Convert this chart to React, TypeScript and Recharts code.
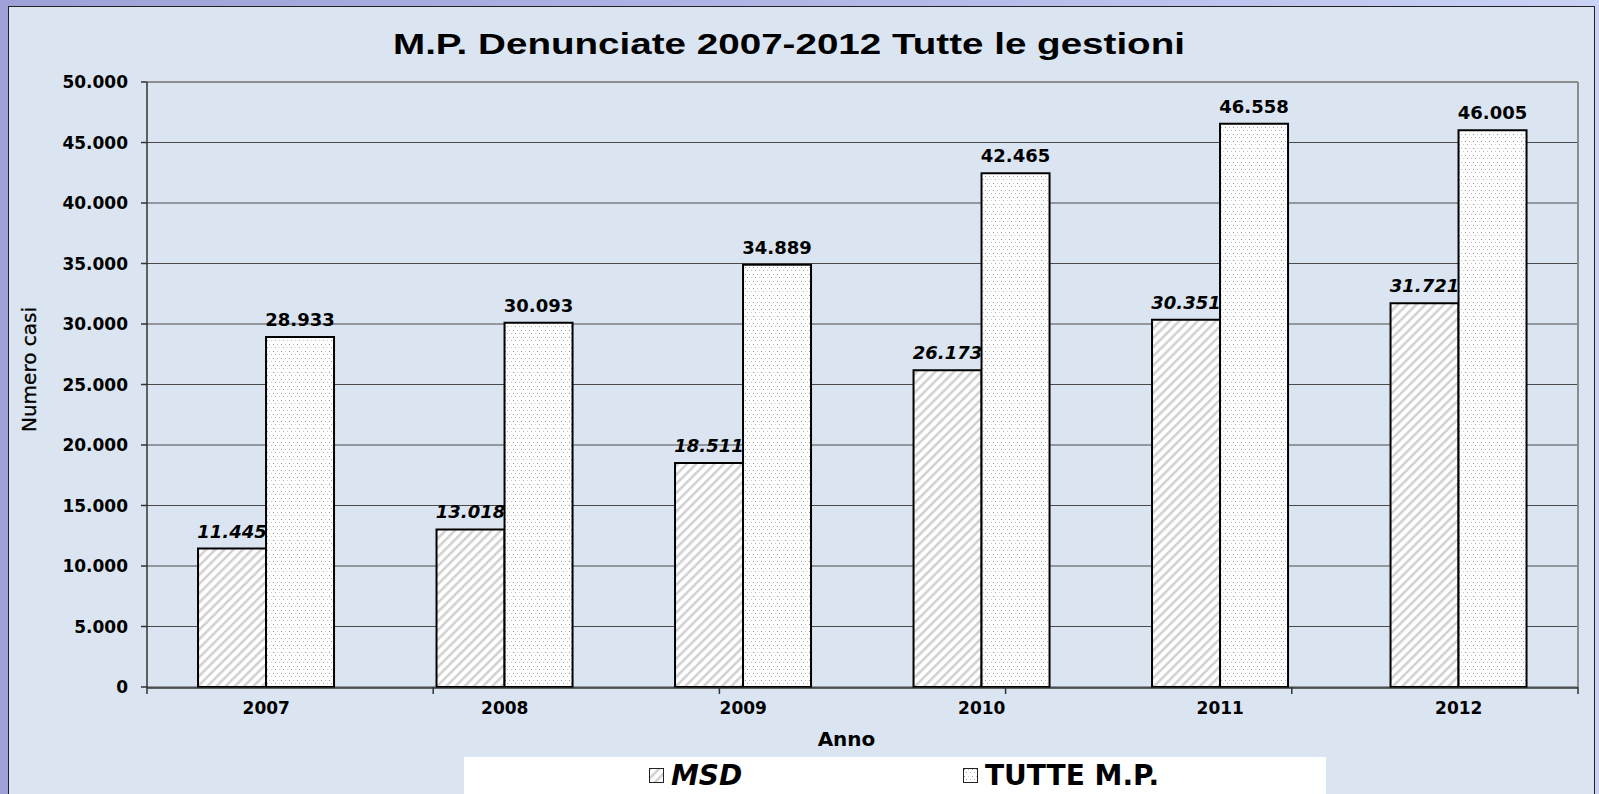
import React from "react";
import {
  Bar,
  BarChart,
  CartesianGrid,
  LabelList,
  ReferenceLine,
  XAxis,
  YAxis,
} from "recharts";

const YEARS = ["2007", "2008", "2009", "2010", "2011", "2012"];
const MSD = [11445, 13018, 18511, 26173, 30351, 31721];
const TUTTE = [28933, 30093, 34889, 42465, 46558, 46005];
const Y_TICKS = [0, 5000, 10000, 15000, 20000, 25000, 30000, 35000, 40000, 45000, 50000];
const SERIES_NAMES = ["MSD", "TUTTE M.P."];
const TITLE = "M.P. Denunciate 2007-2012 Tutte le gestioni";

const data = YEARS.map((anno, i) => ({ anno, msd: MSD[i], tutte: TUTTE[i] }));
// tacche dell'asse X ai confini delle categorie
const BOUNDARY_TICKS = YEARS.map((_, i) => i).concat(YEARS.length);

const FONT = "'DejaVu Sans', sans-serif";

// separatore delle migliaia all'italiana
const fmt = (v: number | string) =>
  String(v).replace(/\B(?=(\d{3})+(?!\d))/g, ".");

function Patterns() {
  return (
    <svg width={0} height={0} style={{ position: "absolute" }}>
      <defs>
        <pattern
          id="msdHatch"
          patternUnits="userSpaceOnUse"
          width={6.5}
          height={6.5}
          patternTransform="rotate(45)"
        >
          <rect width={6.5} height={6.5} fill="#fff" />
          <rect width={2.6} height={6.5} fill="#d2d2d2" />
        </pattern>
        <pattern id="tutteDots" patternUnits="userSpaceOnUse" width={8} height={7}>
          <rect width={8} height={7} fill="#fff" />
          <rect x={1} y={1} width={1} height={1} fill="#8f8f8f" />
          <rect x={5} y={1} width={1} height={1} fill="#c4c4c4" />
          <rect x={3} y={4} width={1} height={1} fill="#a8a8a8" />
          <rect x={7} y={4} width={1} height={1} fill="#c8c8c8" />
        </pattern>
      </defs>
    </svg>
  );
}

function LegendBox() {
  const fills = ["url(#msdHatch)", "url(#tutteDots)"];
  return (
    <div
      style={{
        position: "absolute",
        left: 464,
        top: 757,
        width: 862,
        height: 37,
        background: "#fff",
        display: "flex",
        alignItems: "center",
        paddingLeft: 185,
        boxSizing: "border-box",
      }}
    >
      {SERIES_NAMES.map((name, i) => (
        <div
          key={name}
          style={{
            display: "flex",
            alignItems: "center",
            width: i === 0 ? 314 : "auto",
          }}
        >
          <svg width={15} height={15} style={{ marginRight: 7 }}>
            <rect x={0.5} y={0.5} width={14} height={14} fill={fills[i]} stroke="#222" />
          </svg>
          <span
            style={{
              fontFamily: FONT,
              fontWeight: "bold",
              fontStyle: i === 0 ? "italic" : "normal",
              fontSize: 28,
              color: "#000",
              lineHeight: 1,
            }}
          >
            {name}
          </span>
        </div>
      ))}
    </div>
  );
}

export default function App() {
  const tickStyle = { fontFamily: FONT, fontSize: 17, fontWeight: "bold", fill: "#000" };
  return (
    <div
      style={{
        position: "fixed",
        left: 0,
        top: 0,
        width: 1599,
        height: 794,
        overflow: "hidden",
        background: "linear-gradient(90deg, #9da1d7 0%, #b0b6e6 50%, #cad3f6 100%)",
      }}
    >
      <Patterns />
      <div
        style={{
          position: "absolute",
          left: 8,
          top: 6,
          width: 1587,
          height: 800,
          boxSizing: "border-box",
          border: "1px solid #222",
          background: "#dbe5f1",
        }}
      />
      <svg width={1599} height={70} style={{ position: "absolute", left: 0, top: 0 }}>
        <text
          x={789}
          y={54}
          textAnchor="middle"
          textLength={792}
          lengthAdjust="spacingAndGlyphs"
          fontFamily="'Liberation Sans', Arial, sans-serif"
          fontWeight="bold"
          fontSize={29}
          fill="#000"
        >
          {TITLE}
        </text>
      </svg>
      <div style={{ position: "absolute", left: 0, top: 0 }}>
        <BarChart
          width={1599}
          height={794}
          data={data}
          margin={{ top: 82, right: 20, bottom: 46, left: 28 }}
          barGap={0}
          barCategoryGap="21.4%"
        >
          <CartesianGrid vertical={false} stroke="#4a4a4a" strokeWidth={1} />
          <XAxis
            xAxisId="b"
            dataKey="anno"
            height={60}
            tickLine={false}
            tickSize={6}
            tickMargin={8}
            axisLine={{ stroke: "#333", strokeWidth: 1.5 }}
            tick={tickStyle}
            interval={0}
            label={{
              value: "Anno",
              position: "insideBottom",
              offset: 2,
              dx: -16,
              style: { fontFamily: FONT, fontSize: 20, fontWeight: "bold", fill: "#000" },
            }}
          />
          <XAxis
            xAxisId="a"
            type="number"
            domain={[0, YEARS.length]}
            ticks={BOUNDARY_TICKS}
            tickFormatter={() => ""}
            axisLine={false}
            tickLine={{ stroke: "#333", strokeWidth: 1.5 }}
            tickSize={7}
            height={1}
          />
          <YAxis
            domain={[0, 50000]}
            ticks={Y_TICKS}
            tickFormatter={fmt}
            width={119}
            tickSize={6}
            tickMargin={13}
            tick={tickStyle}
            axisLine={{ stroke: "#333", strokeWidth: 1.5 }}
            tickLine={{ stroke: "#333", strokeWidth: 1.5 }}
            label={{
              value: "Numero casi",
              angle: -90,
              position: "insideLeft",
              offset: 1,
              dy: -15,
              style: {
                textAnchor: "middle",
                fontFamily: FONT,
                fontSize: 20,
                fill: "#000",
                stroke: "#000",
                strokeWidth: 0.3,
              },
            }}
          />
          <YAxis
            yAxisId="r"
            orientation="right"
            domain={[0, 50000]}
            width={1}
            tick={false}
            tickLine={false}
            axisLine={{ stroke: "#8c8c8c", strokeWidth: 2 }}
          />
          <ReferenceLine xAxisId="b" y={50000} stroke="#8c8c8c" strokeWidth={2} />
          <Bar
            xAxisId="b"
            dataKey="msd"
            name={SERIES_NAMES[0]}
            fill="url(#msdHatch)"
            stroke="#000"
            strokeWidth={2}
            isAnimationActive={false}
          >
            <LabelList
              dataKey="msd"
              position="top"
              offset={11}
              formatter={fmt}
              fontFamily={FONT}
              fontSize={18}
              fontWeight="bold"
              fontStyle="italic"
              fill="#000"
            />
          </Bar>
          <Bar
            xAxisId="b"
            dataKey="tutte"
            name={SERIES_NAMES[1]}
            fill="url(#tutteDots)"
            stroke="#000"
            strokeWidth={2}
            isAnimationActive={false}
          >
            <LabelList
              dataKey="tutte"
              position="top"
              offset={11}
              formatter={fmt}
              fontFamily={FONT}
              fontSize={18}
              fontWeight="bold"
              fill="#000"
            />
          </Bar>
        </BarChart>
      </div>
      <LegendBox />
    </div>
  );
}
